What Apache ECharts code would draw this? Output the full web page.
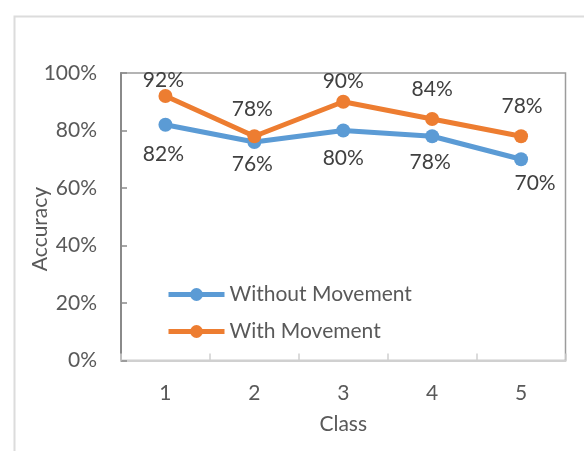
<!DOCTYPE html>
<html>
<head>
<meta charset="utf-8">
<script src="https://cdn.jsdelivr.net/npm/echarts@6/dist/echarts.min.js"></script>
<style>
  html, body { margin: 0; padding: 0; background: #fff; }
  #chart { width: 584px; height: 451px; }
</style>
</head>
<body>
<div id="chart"></div>
<script>
// Accuracy per class, with and without movement
const classes = ['1', '2', '3', '4', '5'];
const withoutMovement = [0.82, 0.76, 0.80, 0.78, 0.70];
const withMovement = [0.92, 0.78, 0.90, 0.84, 0.78];
const yTicks = [0, 0.2, 0.4, 0.6, 0.8, 1.0];

// label nudges (px) so value labels sit clear of the lines
const withoutLabelShift = [[-2, 29], [-2, 22], [0, 28], [-2, 26], [14, 24]];
const withLabelShift = [[-2, -16], [-2, -27], [0, -21], [0, -30], [1, -30]];

const FONT = 'Lato, "Open Sans", sans-serif';
const FS = 21;
const pct = v => Math.round(v * 100) + '%';

function points(values, shifts) {
  return values.map((v, i) => ({
    value: v,
    label: { offset: shifts[i] }
  }));
}

const chart = echarts.init(document.getElementById('chart'));
chart.setOption({
  animation: false,
  backgroundColor: '#fff',
  grid: {
    left: 121, right: 18.5, top: 73, bottom: 90.5,
    show: true, borderColor: '#9c9c9c', borderWidth: 1.5,
    backgroundColor: 'transparent'
  },
  graphic: [
    {
      type: 'rect', left: 12, top: 14, silent: true,
      shape: { x: 0, y: 0, width: 700, height: 600 },
      style: { fill: 'none', stroke: '#dcdcdc', lineWidth: 2 }
    },
    {
      type: 'text', x: 40, y: 229, rotation: Math.PI / 2,
      style: {
        text: 'Accuracy', fill: '#595959', font: FS + 'px ' + FONT,
        align: 'center', verticalAlign: 'middle'
      }
    }
  ],
  legend: {
    orient: 'vertical', left: 161, top: 279,
    itemWidth: 56, itemHeight: 16, itemGap: 16,
    lineStyle: { width: 5 },
    textStyle: { color: '#595959', fontSize: FS, fontFamily: FONT },
    data: ['Without Movement', 'With Movement']
  },
  xAxis: {
    type: 'category', data: classes, boundaryGap: true,
    name: 'Class', nameLocation: 'middle', nameGap: 53,
    nameTextStyle: { color: '#595959', fontSize: FS, fontFamily: FONT },
    axisLine: { lineStyle: { color: '#d0d0d0', width: 2 } },
    axisTick: { show: true, inside: true, length: 7, alignWithLabel: false,
      lineStyle: { color: '#d0d0d0', width: 1.5 } },
    axisLabel: { color: '#595959', fontSize: FS, fontFamily: FONT, margin: 22 }
  },
  yAxis: {
    type: 'value', min: yTicks[0], max: yTicks[yTicks.length - 1], interval: 0.2,
    axisLine: { show: true, lineStyle: { color: '#8a8a8a', width: 2 } },
    axisTick: { show: true, inside: true, length: 6, lineStyle: { color: '#8a8a8a', width: 1.5 } },
    splitLine: { show: false },
    axisLabel: { color: '#595959', fontSize: FS, fontFamily: FONT, margin: 24, formatter: pct }
  },
  series: [
    {
      name: 'Without Movement', type: 'line',
      data: points(withoutMovement, withoutLabelShift),
      color: '#5B9BD5',
      symbol: 'circle', symbolSize: 14,
      lineStyle: { width: 5, color: '#5B9BD5' },
      itemStyle: { color: '#5B9BD5' },
      label: { show: true, position: 'inside', color: '#404040', fontSize: FS,
        fontFamily: FONT, formatter: p => pct(p.value) }
    },
    {
      name: 'With Movement', type: 'line',
      data: points(withMovement, withLabelShift),
      color: '#ED7D31',
      symbol: 'circle', symbolSize: 14,
      lineStyle: { width: 5, color: '#ED7D31' },
      itemStyle: { color: '#ED7D31' },
      label: { show: true, position: 'inside', color: '#404040', fontSize: FS,
        fontFamily: FONT, formatter: p => pct(p.value) }
    }
  ]
});
</script>
</body>
</html>
